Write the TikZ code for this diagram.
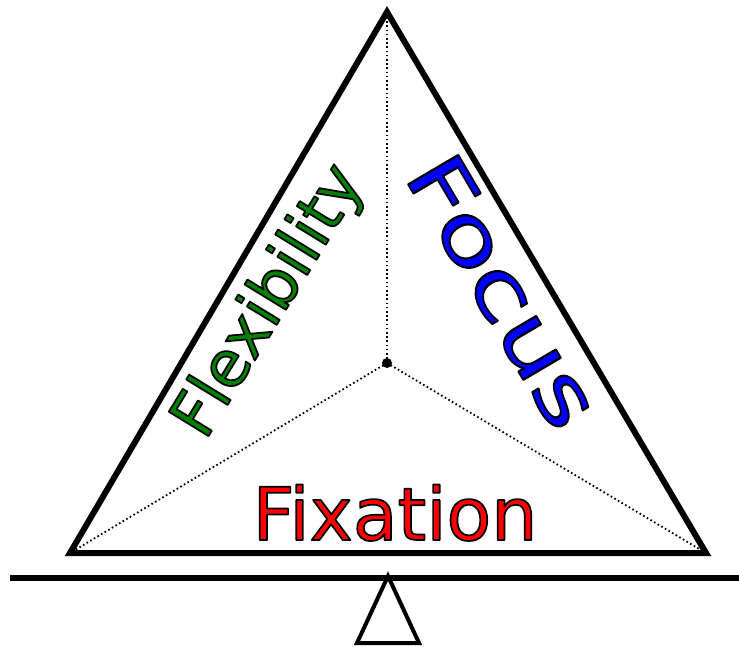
\documentclass[tikz,border=0pt]{standalone}
\usepackage{fontspec}
\newfontfamily\dvsans{DejaVu Sans}
\definecolor{flexgreen}{RGB}{0,128,0}
\definecolor{focusblue}{RGB}{0,0,255}
\definecolor{fixred}{RGB}{255,0,0}
\newcommand{\outlined}[2]{\textcolor{#1}{\special{pdf:code 2 Tr 0 0 0 RG 1.7 w 1 j}#2\special{pdf:code 0 Tr}}}
\tikzset{
  edge/.style={line width=6pt, line join=miter},
  guide/.style={line width=1.8pt, dash pattern=on 1.6pt off 2.6pt},
  label/.style={inner sep=0pt, font=\dvsans},
}
\begin{document}
\begin{tikzpicture}[x=1pt,y=-1pt]
\useasboundingbox (0,0) rectangle (739,647);
\coordinate (top) at (387,12);
\coordinate (bl) at (70,553);
\coordinate (br) at (706,553);
\coordinate (ctr) at (387,363);
\coordinate (beamL) at (10,578);
\coordinate (beamR) at (739,578);
\coordinate (pivot) at (388,576);
\coordinate (pl) at (357,643);
\coordinate (pr) at (419,643);
\draw[guide] (ctr) -- (top);
\draw[guide] (ctr) -- (bl);
\draw[guide] (ctr) -- (br);
\fill (ctr) circle (5);
\draw[edge] (top) -- (bl) -- (br) -- cycle;
\draw[line width=6pt] (beamL) -- (beamR);
\draw[line width=4pt, line join=miter, fill=white] (pivot) -- (pl) -- (pr) -- cycle;
\node[label, rotate=58.5] (flex) at (270,302) {\fontsize{64}{70}\selectfont\outlined{flexgreen}{Flexibility}};
\node[label, rotate=-59.5] (focus) at (504,291) {\fontsize{80}{90}\selectfont\scalebox{1.32}[1]{\outlined{focusblue}{Focus}}};
\node[label, anchor=base] (fix) at (395,540) {\fontsize{73}{80}\selectfont\outlined{fixred}{Fixation}};
\end{tikzpicture}
\end{document}
